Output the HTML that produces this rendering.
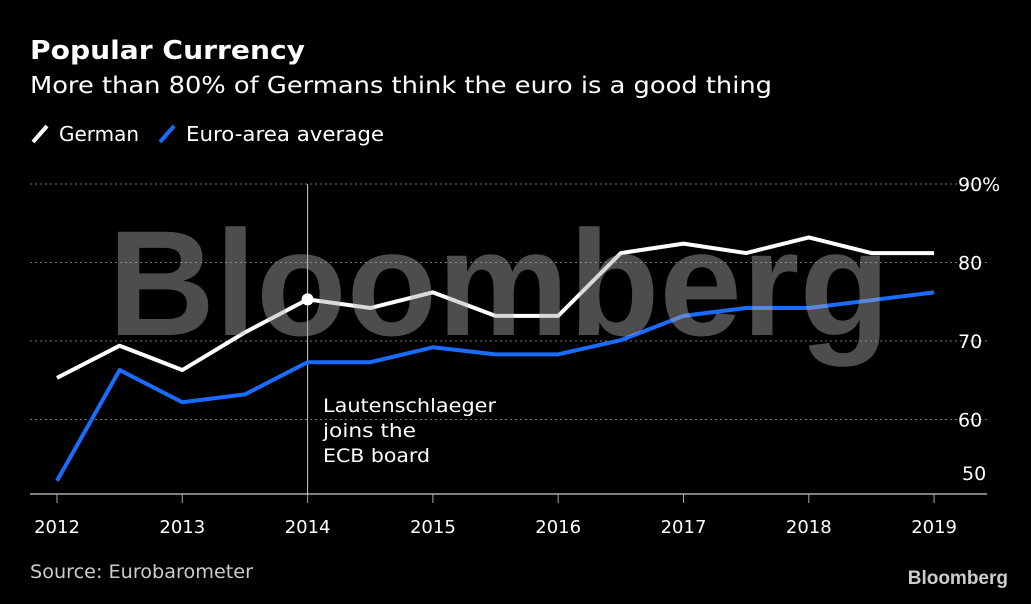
<!DOCTYPE html>
<html><head><meta charset="utf-8"><style>
body{margin:0;background:#000;width:1031px;height:600px;overflow:hidden;font-family:"DejaVu Sans","Liberation Sans",sans-serif;color:#fff}
svg text{font-family:"DejaVu Sans","Liberation Sans",sans-serif}
</style></head><body>
<svg width="1031" height="600">
<text x="30" y="59" font-size="26" font-weight="bold" fill="#fff" textLength="275" lengthAdjust="spacingAndGlyphs">Popular Currency</text>
<text x="30" y="93" font-size="23" fill="#fff" textLength="742" lengthAdjust="spacingAndGlyphs">More than 80% of Germans think the euro is a good thing</text>
<g>
<line x1="33" y1="142" x2="47" y2="126" stroke="#fff" stroke-width="4"/>
<text x="59" y="141" font-size="20" fill="#fff" textLength="80" lengthAdjust="spacingAndGlyphs">German</text>
<line x1="160" y1="142" x2="174" y2="126" stroke="#1a6cff" stroke-width="4"/>
<text x="186" y="141" font-size="20" fill="#fff" textLength="198" lengthAdjust="spacingAndGlyphs">Euro-area average</text>
</g>
<g id="grid"></g><g id="axis"></g><g id="lines"></g>
<text x="108" y="335" font-size="150" font-weight="bold" fill="#aaa" fill-opacity="0.45" textLength="782" lengthAdjust="spacingAndGlyphs" font-family="Liberation Sans" style="font-family:'Liberation Sans',sans-serif">Bloomberg</text>
<text x="30" y="578" font-size="19" fill="#ccc" textLength="223" lengthAdjust="spacingAndGlyphs">Source: Eurobarometer</text>
<text x="1008" y="584" font-size="19" font-weight="bold" fill="#ccc" text-anchor="end" style="font-family:'Liberation Sans',sans-serif">Bloomberg</text>
</svg>
<script>
const years=[2012,2012.5,2013,2013.5,2014,2014.5,2015,2015.5,2016,2016.5,2017,2017.5,2018,2018.5,2019];
const german=[65.3,69.4,66.3,71.1,75.3,74.2,76.2,73.2,73.2,81.2,82.4,81.2,83.2,81.2,81.2];
const euroArea=[52.2,66.3,62.2,63.2,67.3,67.3,69.2,68.3,68.3,70.1,73.2,74.2,74.2,75.2,76.2];
const xTicks=[2012,2013,2014,2015,2016,2017,2018,2019];
const yTicks=[50,60,70,80,90];
const NS="http://www.w3.org/2000/svg";
const X=v=>57+(v-2012)*125.3, Y=v=>498-(v-50)*7.85;
function mk(t,a,p){const e=document.createElementNS(NS,t);for(const k in a)e.setAttribute(k,a[k]);p.appendChild(e);return e;}
const g=document.getElementById('grid'),ax=document.getElementById('axis'),ln=document.getElementById('lines');
yTicks.forEach(v=>{
 if(v>50){const l=mk('line',{x1:30,x2:987,y1:Y(v),y2:Y(v),stroke:'#777','stroke-dasharray':'2,3'},g);
 
 }
 const t=mk('text',{x:v==50?962:958,y:v==50?Y(v)-18:Y(v)+7,'font-size':19,fill:'#fff'},ax);
 t.textContent=v==90?'90%':v;
 
 
});
const base=mk('line',{x1:30,x2:987,y1:494,y2:494,stroke:'#aaa','stroke-width':1.5},ax);


xTicks.forEach(v=>{
 mk('line',{x1:X(v),x2:X(v),y1:494,y2:503,stroke:'#aaa'},ax);
 const t=mk('text',{x:X(v),y:533,'font-size':18,fill:'#fff','text-anchor':'middle'},ax);
 t.textContent=v;
 
 
});
const vl=mk('line',{x1:X(2014),x2:X(2014),y1:184,y2:494,stroke:'#ccc','stroke-width':1},ax);


[['Lautenschlaeger',173],['joins the',93],['ECB board',107]].forEach((s,i)=>{
 const t=mk('text',{x:323,y:412+i*25,'font-size':19,fill:'#fff',textLength:s[1],lengthAdjust:'spacingAndGlyphs'},ax);t.textContent=s[0];
 
 
});
function line(d,c,n){const p=mk('polyline',{points:d.map((v,i)=>X(years[i])+','+Y(v)).join(' '),fill:'none',stroke:c,'stroke-width':4,'stroke-linejoin':'round'},ln);
 
 }
line(euroArea,'#1a6cff','euro-area-line');
line(german,'#fff','german-line');
const dot=mk('circle',{cx:X(2014),cy:Y(german[years.indexOf(2014)]),r:6,fill:'#fff'},ln);


</script>
</body></html>
